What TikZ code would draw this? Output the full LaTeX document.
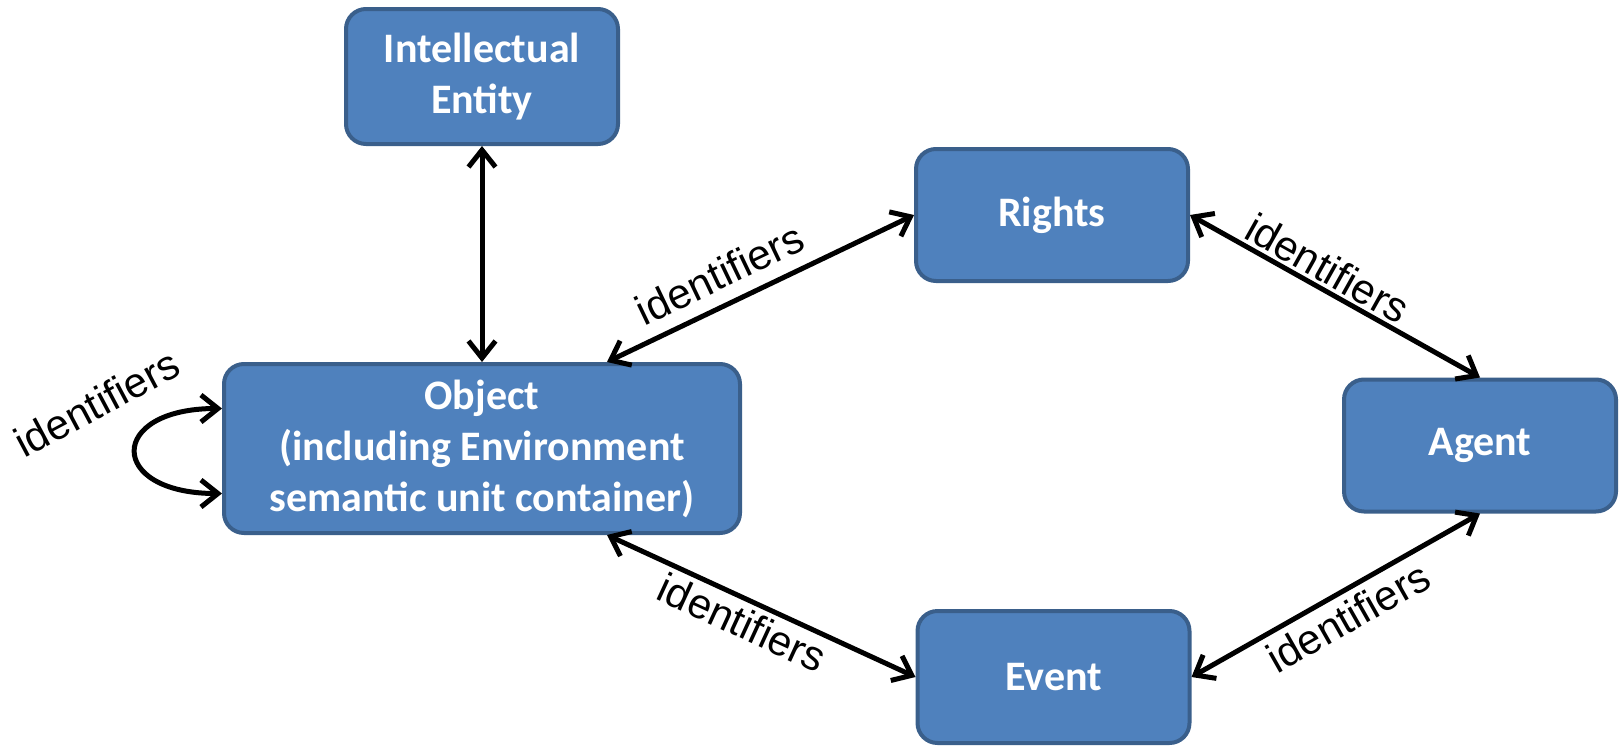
\documentclass[tikz,border=0pt]{standalone}
\usepackage{fontspec}
\setmainfont{Liberation Sans}[Ligatures=NoCommon]
\newfontfamily\boxfont{Carlito}
\usetikzlibrary{arrows.meta,calc}
\definecolor{boxfill}{HTML}{4F81BD}
\definecolor{boxline}{HTML}{3A5F8B}
\begin{document}
\begin{tikzpicture}[x=1pt,y=-1pt,
  box/.style={draw=boxline, fill=boxfill, line width=4pt, rounded corners=20pt,
    text=white, font=\boxfont\bfseries\fontsize{42}{51}\selectfont, align=center,
    minimum width=272pt, minimum height=132pt, inner sep=0pt},
  conn/.style={line width=5pt, line cap=round,
    {Straight Barb[length=17pt,width=27pt]}-{Straight Barb[length=17pt,width=27pt]}},
  lbl/.style={font=\fontsize{42}{50}\selectfont, inner sep=2pt}]
\useasboundingbox (0,0) rectangle (1620,750);
\node[box, minimum height=135pt] (ie) at (482,76.5) {Intellectual\\Entity};
\node[box] (rights) at (1052,215) {Rights};
\node[box, minimum width=516pt, minimum height=169pt] (obj) at (482,448.5)
  {Object\\(including Environment\\semantic unit container)};
\node[box] (agent) at (1480,445.5) {Agent};
\node[box] (event) at (1053.5,677) {Event};

\draw[conn] (ie.south) -- (obj.north);
\draw[conn] ([xshift=125pt]obj.north) -- node[lbl, sloped, pos=0.41, above=11pt] (l1) {identifiers} (rights.west);
\draw[conn] (rights.east) -- node[lbl, sloped, pos=0.44, above=1pt] (l2) {identifiers} (agent.north);
\draw[conn] ([xshift=125pt]obj.south) -- node[lbl, sloped, pos=0.47, below=3pt] (l3) {identifiers} (event.west);
\draw[conn] (event.east) -- node[lbl, sloped, pos=0.5, below=5pt] (l4) {identifiers} (agent.south);
\draw[conn] ($(obj.west)+(0,-40)$) .. controls +(-115,0) and +(-115,0) .. ($(obj.west)+(0,45)$);
\node[lbl, rotate=28] (l5) at (97,403) {identifiers};
\end{tikzpicture}
\end{document}
